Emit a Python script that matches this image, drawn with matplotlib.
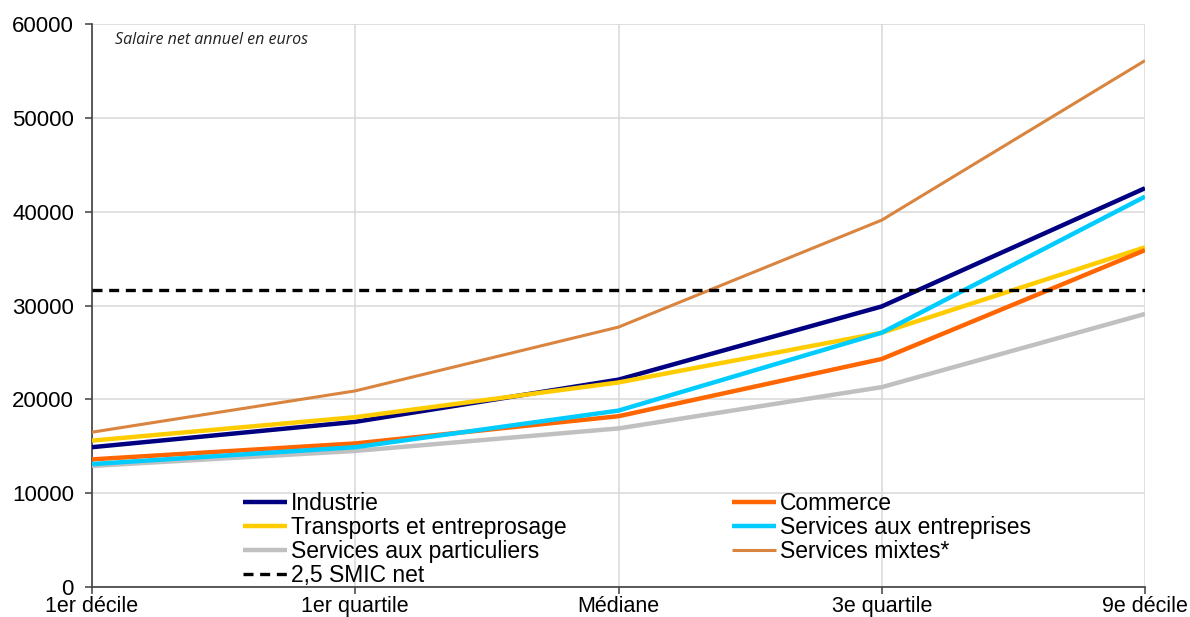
import matplotlib
matplotlib.use("Agg")
import matplotlib.pyplot as plt

plt.rcParams["font.family"] = ["Liberation Sans", "DejaVu Sans"]

categories = ["1er décile", "1er quartile", "Médiane", "3e quartile", "9e décile"]

industrie = [14900, 17600, 22100, 29900, 42500]
commerce = [13600, 15300, 18200, 24300, 35900]
transports = [15600, 18100, 21800, 27100, 36200]
services_entreprises = [13100, 14900, 18800, 27100, 41600]
services_particuliers = [12900, 14500, 16900, 21300, 29100]
services_mixtes = [16500, 20900, 27700, 39100, 56100]
smic_25 = 31650

yticks = [0, 10000, 20000, 30000, 40000, 50000, 60000]

series = [
    ("Industrie", industrie, "#000080", 3.2),
    ("Transports et entreprosage", transports, "#FFCC00", 3.2),
    ("Services aux particuliers", services_particuliers, "#C0C0C0", 3.2),
    ("Commerce", commerce, "#FF6600", 3.2),
    ("Services aux entreprises", services_entreprises, "#00CCFF", 3.2),
    ("Services mixtes*", services_mixtes, "#D9843F", 2.2),
]

fig = plt.figure(figsize=(11.9, 6.17), dpi=100)
ax = fig.add_axes([92 / 1190, 30 / 617, (1145 - 92) / 1190, (587 - 24) / 617])

x = list(range(len(categories)))
handles = {}
for label, vals, color, lw in series:
    (h,) = ax.plot(x, vals, color=color, lw=lw, label=label, solid_capstyle="butt", zorder=3)
    handles[label] = h
(hs,) = ax.plot([x[0], x[-1]], [smic_25, smic_25], color="black", lw=2.4,
                ls=(0, (3, 2)), label="2,5 SMIC net", zorder=4)
handles["2,5 SMIC net"] = hs

ax.set_xlim(0, len(categories) - 1)
ax.set_ylim(0, 60000)
ax.set_xticks(x)
ax.set_xticklabels(categories, fontsize=15.5)
ax.set_yticks(yticks)
ax.set_yticklabels([str(v) for v in yticks], fontsize=16)

ax.grid(True, color="#D9D9D9", lw=1.1, zorder=0)
for side in ("top", "right"):
    ax.spines[side].set_visible(False)
for side in ("left", "bottom"):
    ax.spines[side].set_color("#404040")
    ax.spines[side].set_linewidth(1.2)
ax.tick_params(axis="both", direction="out", length=5, width=1.1, color="#404040")
ax.tick_params(axis="x", pad=1.5)
ax.tick_params(axis="y", pad=8)

ax.text(0.022, 0.985, "Salaire net annuel en euros", transform=ax.transAxes,
        fontsize=11.5, style="italic", va="top", ha="left", color="#222222",
        family=["Open Sans", "DejaVu Sans"])

order = ["Industrie", "Transports et entreprosage", "Services aux particuliers", "2,5 SMIC net",
         "Commerce", "Services aux entreprises", "Services mixtes*"]
leg = ax.legend([handles[k] for k in order], order, ncol=2, frameon=False,
                loc="upper left", bbox_to_anchor=(243 / 1190, 1 - 492 / 617),
                bbox_transform=fig.transFigure, fontsize=16.5, borderpad=0,
                borderaxespad=0, handlelength=1.92, handletextpad=0.18,
                labelspacing=0.05, columnspacing=7.2)

fig.savefig("out.png", dpi=100, facecolor="white")
